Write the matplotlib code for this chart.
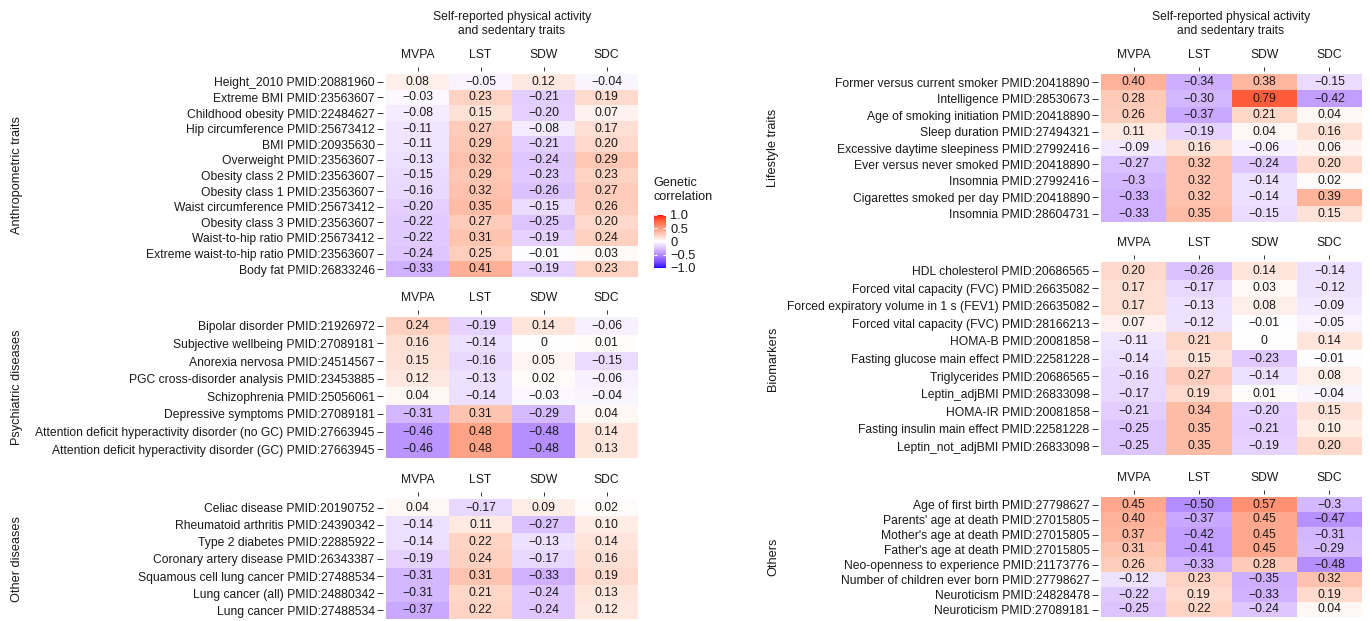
import numpy as np
import matplotlib
matplotlib.use("Agg")
import matplotlib.pyplot as plt
from matplotlib.colors import ListedColormap
from matplotlib.cm import ScalarMappable
from matplotlib.colors import Normalize

plt.rcParams['font.family'] = ['Liberation Sans', 'DejaVu Sans']

traits = ["MVPA", "LST", "SDW", "SDC"]

# --- data (as printed in the cells) ---
anthro_labels = ["Height_2010 PMID:20881960", "Extreme BMI PMID:23563607",
                 "Childhood obesity PMID:22484627", "Hip circumference PMID:25673412",
                 "BMI PMID:20935630", "Overweight PMID:23563607",
                 "Obesity class 2 PMID:23563607", "Obesity class 1 PMID:23563607",
                 "Waist circumference PMID:25673412", "Obesity class 3 PMID:23563607",
                 "Waist-to-hip ratio PMID:25673412", "Extreme waist-to-hip ratio PMID:23563607",
                 "Body fat PMID:26833246"]
anthro_values = [["0.08", "-0.05", "0.12", "-0.04"],
                 ["-0.03", "0.23", "-0.21", "0.19"],
                 ["-0.08", "0.15", "-0.20", "0.07"],
                 ["-0.11", "0.27", "-0.08", "0.17"],
                 ["-0.11", "0.29", "-0.21", "0.20"],
                 ["-0.13", "0.32", "-0.24", "0.29"],
                 ["-0.15", "0.29", "-0.23", "0.23"],
                 ["-0.16", "0.32", "-0.26", "0.27"],
                 ["-0.20", "0.35", "-0.15", "0.26"],
                 ["-0.22", "0.27", "-0.25", "0.20"],
                 ["-0.22", "0.31", "-0.19", "0.24"],
                 ["-0.24", "0.25", "-0.01", "0.03"],
                 ["-0.33", "0.41", "-0.19", "0.23"]]

psych_labels = ["Bipolar disorder PMID:21926972", "Subjective wellbeing PMID:27089181",
                "Anorexia nervosa PMID:24514567", "PGC cross-disorder analysis PMID:23453885",
                "Schizophrenia PMID:25056061", "Depressive symptoms PMID:27089181",
                "Attention deficit hyperactivity disorder (no GC) PMID:27663945",
                "Attention deficit hyperactivity disorder (GC) PMID:27663945"]
psych_values = [["0.24", "-0.19", "0.14", "-0.06"],
                ["0.16", "-0.14", "0", "0.01"],
                ["0.15", "-0.16", "0.05", "-0.15"],
                ["0.12", "-0.13", "0.02", "-0.06"],
                ["0.04", "-0.14", "-0.03", "-0.04"],
                ["-0.31", "0.31", "-0.29", "0.04"],
                ["-0.46", "0.48", "-0.48", "0.14"],
                ["-0.46", "0.48", "-0.48", "0.13"]]

other_dis_labels = ["Celiac disease PMID:20190752", "Rheumatoid arthritis PMID:24390342",
                    "Type 2 diabetes PMID:22885922", "Coronary artery disease PMID:26343387",
                    "Squamous cell lung cancer PMID:27488534", "Lung cancer (all) PMID:24880342",
                    "Lung cancer PMID:27488534"]
other_dis_values = [["0.04", "-0.17", "0.09", "0.02"],
                    ["-0.14", "0.11", "-0.27", "0.10"],
                    ["-0.14", "0.22", "-0.13", "0.14"],
                    ["-0.19", "0.24", "-0.17", "0.16"],
                    ["-0.31", "0.31", "-0.33", "0.19"],
                    ["-0.31", "0.21", "-0.24", "0.13"],
                    ["-0.37", "0.22", "-0.24", "0.12"]]

life_labels = ["Former versus current smoker PMID:20418890", "Intelligence PMID:28530673",
               "Age of smoking initiation PMID:20418890", "Sleep duration PMID:27494321",
               "Excessive daytime sleepiness PMID:27992416", "Ever versus never smoked PMID:20418890",
               "Insomnia PMID:27992416", "Cigarettes smoked per day PMID:20418890",
               "Insomnia PMID:28604731"]
life_values = [["0.40", "-0.34", "0.38", "-0.15"],
               ["0.28", "-0.30", "0.79", "-0.42"],
               ["0.26", "-0.37", "0.21", "0.04"],
               ["0.11", "-0.19", "0.04", "0.16"],
               ["-0.09", "0.16", "-0.06", "0.06"],
               ["-0.27", "0.32", "-0.24", "0.20"],
               ["-0.3", "0.32", "-0.14", "0.02"],
               ["-0.33", "0.32", "-0.14", "0.39"],
               ["-0.33", "0.35", "-0.15", "0.15"]]

bio_labels = ["HDL cholesterol PMID:20686565", "Forced vital capacity (FVC) PMID:26635082",
              "Forced expiratory volume in 1 s (FEV1) PMID:26635082",
              "Forced vital capacity (FVC) PMID:28166213", "HOMA-B PMID:20081858",
              "Fasting glucose main effect PMID:22581228", "Triglycerides PMID:20686565",
              "Leptin_adjBMI PMID:26833098", "HOMA-IR PMID:20081858",
              "Fasting insulin main effect PMID:22581228", "Leptin_not_adjBMI PMID:26833098"]
bio_values = [["0.20", "-0.26", "0.14", "-0.14"],
              ["0.17", "-0.17", "0.03", "-0.12"],
              ["0.17", "-0.13", "0.08", "-0.09"],
              ["0.07", "-0.12", "-0.01", "-0.05"],
              ["-0.11", "0.21", "0", "0.14"],
              ["-0.14", "0.15", "-0.23", "-0.01"],
              ["-0.16", "0.27", "-0.14", "0.08"],
              ["-0.17", "0.19", "0.01", "-0.04"],
              ["-0.21", "0.34", "-0.20", "0.15"],
              ["-0.25", "0.35", "-0.21", "0.10"],
              ["-0.25", "0.35", "-0.19", "0.20"]]

others_labels = ["Age of first birth PMID:27798627", "Parents' age at death PMID:27015805",
                 "Mother's age at death PMID:27015805", "Father's age at death PMID:27015805",
                 "Neo-openness to experience PMID:21173776", "Number of children ever born PMID:27798627",
                 "Neuroticism PMID:24828478", "Neuroticism PMID:27089181"]
others_values = [["0.45", "-0.50", "0.57", "-0.3"],
                 ["0.40", "-0.37", "0.45", "-0.47"],
                 ["0.37", "-0.42", "0.45", "-0.31"],
                 ["0.31", "-0.41", "0.45", "-0.29"],
                 ["0.26", "-0.33", "0.28", "-0.48"],
                 ["-0.12", "0.23", "-0.35", "0.32"],
                 ["-0.22", "0.19", "-0.33", "0.19"],
                 ["-0.25", "0.22", "-0.24", "0.04"]]

cbar_ticks = [-1.0, -0.5, 0, 0.5, 1.0]
cbar_ticklabels = ["\u22121.0", "\u22120.5", "0", "0.5", "1.0"]


# blue - white - red, interpolated in Lab like ggplot's gradient2
def rgb2lab(rgb):
    rgb = np.asarray(rgb, float)
    c = np.where(rgb <= 0.04045, rgb / 12.92, ((rgb + 0.055) / 1.055) ** 2.4)
    M = np.array([[0.4124, 0.3576, 0.1805], [0.2126, 0.7152, 0.0722], [0.0193, 0.1192, 0.9505]])
    xyz = M @ c / np.array([0.95047, 1.0, 1.08883])
    f = np.where(xyz > 0.008856, np.cbrt(xyz), 7.787 * xyz + 16 / 116)
    return np.array([116 * f[1] - 16, 500 * (f[0] - f[1]), 200 * (f[1] - f[2])])


def lab2rgb(lab):
    L, a, b = lab
    fy = (L + 16) / 116
    fx = fy + a / 500
    fz = fy - b / 200
    f = np.array([fx, fy, fz])
    xyz = np.where(f ** 3 > 0.008856, f ** 3, (f - 16 / 116) / 7.787)
    xyz = xyz * np.array([0.95047, 1.0, 1.08883])
    Mi = np.array([[3.2406, -1.5372, -0.4986], [-0.9689, 1.8758, 0.0415], [0.0557, -0.2040, 1.0570]])
    c = Mi @ xyz
    c = np.where(c <= 0.0031308, 12.92 * c, 1.055 * np.abs(c) ** (1 / 2.4) - 0.055)
    return np.clip(c, 0, 1)


lab_lo, lab_mid, lab_hi = rgb2lab([0, 0, 1]), rgb2lab([1, 1, 1]), rgb2lab([1, 0, 0])
cols = []
for t in np.linspace(-1, 1, 256):
    if t < 0:
        cols.append(lab2rgb(lab_mid + (-t) * (lab_lo - lab_mid)))
    else:
        cols.append(lab2rgb(lab_mid + t * (lab_hi - lab_mid)))
cmap = ListedColormap(cols)

W, H = 1370, 621
fig = plt.figure(figsize=(W / 100, H / 100), dpi=100)


def box(l, t, r, b):
    return [l / W, 1 - b / H, (r - l) / W, (b - t) / H]


# (facet title, labels, values, pixel box left/top/right/bottom, facet label x)
blocks = [
    ("Anthropometric traits", anthro_labels, anthro_values, (386, 74, 638, 277), 17),
    ("Psychiatric diseases", psych_labels, psych_values, (386, 317, 638, 458), 17),
    ("Other diseases", other_dis_labels, other_dis_values, (386, 499, 638, 619), 17),
    ("Lifestyle traits", life_labels, life_values, (1101, 74, 1362, 222), 773),
    ("Biomarkers", bio_labels, bio_values, (1101, 262, 1362, 455), 773),
    ("Others", others_labels, others_values, (1101, 497, 1362, 617), 773),
]

fs = 8.75
for title, labels, vals, (l, t, r, b), fx in blocks:
    n = len(labels)
    num = np.array([[float(v) for v in row] for row in vals])
    colw = (r - l) / 4
    rowh = (b - t) / n
    gx, gy = 3 / colw, 3 / rowh
    ax = fig.add_axes(box(l - 3, t - 3, r, b))
    ax.pcolormesh(np.arange(5), np.arange(n + 1), num, cmap=cmap, vmin=-1, vmax=1)
    for i in range(n):
        for j in range(4):
            ax.text(j + 0.5, i + 0.5, vals[i][j].replace("-", "\u2212"),
                    ha="center", va="center", fontsize=fs, color="#1a1a1a")
    ax.set_xlim(-gx, 4)
    ax.set_ylim(n, -gy)
    ax.xaxis.tick_top()
    ax.set_xticks(np.arange(4) + 0.5)
    ax.set_xticklabels(traits, fontsize=fs, color="#1a1a1a")
    ax.set_yticks(np.arange(n) + 0.5)
    ax.set_yticklabels(labels, fontsize=fs, color="#1a1a1a")
    ax.tick_params(axis="x", length=3.2, width=0.7, color="#333333", pad=4)
    ax.tick_params(axis="y", length=4, width=0.7, color="#333333", pad=2)
    for s in ax.spines.values():
        s.set_visible(False)
    fig.text(fx / W, 1 - (t + b) / 2 / H, title, rotation=90, ha="center", va="center",
             fontsize=fs + 0.4, color="#1a1a1a")

for cx in (512, 1231):
    fig.text(cx / W, 1 - 24 / H, "Self-reported physical activity\nand sedentary traits",
             ha="center", va="center", multialignment="center", fontsize=fs, color="#1a1a1a")

# colour bar
cax = fig.add_axes(box(654, 215, 666, 268))
cb = fig.colorbar(ScalarMappable(norm=Normalize(-1, 1), cmap=cmap), cax=cax, ticks=cbar_ticks)
cb.outline.set_visible(False)
cb.set_ticklabels(cbar_ticklabels)
cax.tick_params(axis="y", direction="in", length=2.5, width=0.8, color="white",
                left=True, right=True, labelsize=fs + 0.5, pad=3, labelcolor="#1a1a1a")
fig.text(653 / W, 1 - 190 / H, "Genetic\ncorrelation", ha="left", va="center",
         fontsize=fs + 0.3, color="#1a1a1a")

fig.savefig("out.png", dpi=100)
